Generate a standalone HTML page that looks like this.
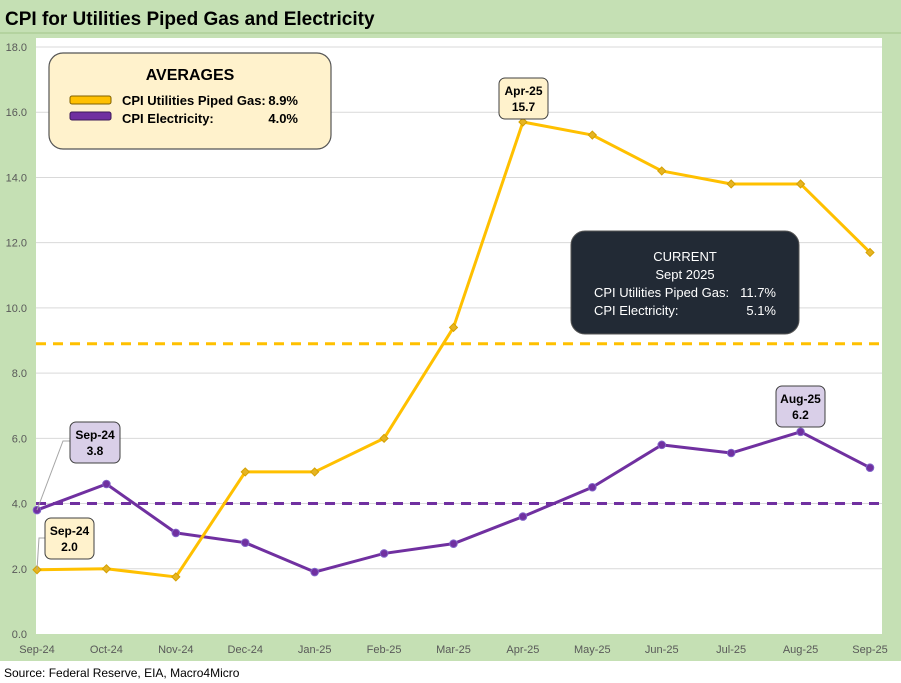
<!DOCTYPE html>
<html><head><meta charset="utf-8"><style>
body{margin:0;width:901px;height:683px;background:#fff;font-family:"Liberation Sans",sans-serif;overflow:hidden}
svg{display:block}
</style></head><body>
<svg width="901" height="683" viewBox="0 0 901 683">
<rect x="0" y="0" width="901" height="661" fill="#c5e0b4"/>
<rect x="0" y="32" width="901" height="2" fill="#b4d39f"/>
<text x="5" y="25" font-size="19" font-weight="bold" fill="#000">CPI for Utilities Piped Gas and Electricity</text>
<rect x="36" y="38" width="846" height="596" fill="#fff"/>
<g id="grid"></g><g id="yt"></g><g id="xt"></g><g id="avg"></g><g id="series"></g>
<text x="4" y="677" font-size="12" fill="#000">Source: Federal Reserve, EIA, Macro4Micro</text>
<g>
<rect x="49" y="53" width="282" height="96" rx="14" fill="#fff2cc" stroke="#555" stroke-width="1.2"/>
<text x="190" y="80" font-size="16" font-weight="bold" text-anchor="middle">AVERAGES</text>
<rect x="70" y="96" width="41" height="8" rx="2" fill="#ffc000" stroke="#7f6000"/>
<rect x="70" y="112" width="41" height="8" rx="2" fill="#7030a0" stroke="#3c1a58"/>
<text x="122" y="105" font-size="13" font-weight="bold">CPI Utilities Piped Gas:</text>
<text x="298" y="105" font-size="13" font-weight="bold" text-anchor="end">8.9%</text>
<text x="122" y="123" font-size="13" font-weight="bold">CPI Electricity:</text>
<text x="298" y="123" font-size="13" font-weight="bold" text-anchor="end">4.0%</text>
</g>
<g>
<rect x="571" y="231" width="228" height="103" rx="14" fill="#222a35" stroke="#555"/>
<text x="685" y="261" font-size="13" fill="#fff" text-anchor="middle">CURRENT</text>
<text x="685" y="279" font-size="13" fill="#fff" text-anchor="middle">Sept 2025</text>
<text x="594" y="297" font-size="13" fill="#fff">CPI Utilities Piped Gas:</text>
<text x="776" y="297" font-size="13" fill="#fff" text-anchor="end">11.7%</text>
<text x="594" y="315" font-size="13" fill="#fff">CPI Electricity:</text>
<text x="776" y="315" font-size="13" fill="#fff" text-anchor="end">5.1%</text>
</g>
<g id="callouts"></g>
</svg>
<script>
const categories=["Sep-24","Oct-24","Nov-24","Dec-24","Jan-25","Feb-25","Mar-25","Apr-25","May-25","Jun-25","Jul-25","Aug-25","Sep-25"];
const gasValues=[1.97,2.0,1.75,4.97,4.97,6.0,9.4,15.7,15.3,14.2,13.8,13.8,11.7];
const elecValues=[3.8,4.6,3.1,2.8,1.9,2.47,2.77,3.6,4.5,5.8,5.55,6.2,5.1];
const gasAvg=[8.9];
const elecAvg=[4.0];
const yTicks=[0,2,4,6,8,10,12,14,16,18];
const NS="http://www.w3.org/2000/svg";
const X=i=>37+i*(870-37)/12;
const Y=v=>634-v*(634-47)/18;
function mk(t,a,p){const e=document.createElementNS(NS,t);for(const k in a)e.setAttribute(k,a[k]);document.getElementById(p).appendChild(e);return e;}
yTicks.forEach(v=>{
 if(v>0){const g=mk('line',{x1:36,x2:882,y1:Y(v),y2:Y(v),stroke:'#d9d9d9','stroke-width':1},'grid');
 
 }
 const t=mk('text',{x:27,y:Y(v)+4,'font-size':11,fill:'#595959','text-anchor':'end'},'yt');t.textContent=v.toFixed(1);
 
 
});
categories.forEach((c,i)=>{
 const t=mk('text',{x:X(i),y:653,'font-size':11,fill:'#595959','text-anchor':'middle'},'xt');t.textContent=c;
 
 
});
const a1=mk('line',{x1:36,x2:882,y1:Y(gasAvg[0]),y2:Y(gasAvg[0]),stroke:'#ffc000','stroke-width':3,'stroke-dasharray':'10 7'},'avg');


const a2=mk('line',{x1:36,x2:882,y1:Y(elecAvg[0]),y2:Y(elecAvg[0]),stroke:'#7030a0','stroke-width':3,'stroke-dasharray':'10 7'},'avg');


function series(vals,col,name,diamond){
 const p=mk('polyline',{points:vals.map((v,i)=>X(i)+','+Y(v)).join(' '),fill:'none',stroke:col,'stroke-width':3,'stroke-linejoin':'round'},'series');
 
 
 vals.forEach((v,i)=>{
  let m;
  if(diamond){const x=X(i),y=Y(v);m=mk('polygon',{points:`${x},${y-4} ${x+4},${y} ${x},${y+4} ${x-4},${y}`,fill:'#e6b422',stroke:'#d4a000'},'series');}
  else m=mk('circle',{cx:X(i),cy:Y(v),r:3.8,fill:'#7030a0',stroke:'#8064c8'},'series');
  
  
 });
}
series(elecValues,'#7030a0','electricity',false);
series(gasValues,'#ffc000','gas',true);
function callout(x,y,w,h,fill,l1,l2,name){
 const r=mk('rect',{x:x,y:y,width:w,height:h,rx:6,fill:fill,stroke:'#404040','stroke-width':1},'callouts');
 
 
 const t1=mk('text',{x:x+w/2,y:y+17,'font-size':12,'font-weight':'bold','text-anchor':'middle'},'callouts');t1.textContent=l1;
 const t2=mk('text',{x:x+w/2,y:y+33,'font-size':12,'font-weight':'bold','text-anchor':'middle'},'callouts');t2.textContent=l2;
}
mk('polyline',{points:`${X(0)},${Y(elecValues[0])} 63,441 70,441`,fill:'none',stroke:'#a6a6a6'},'callouts');
mk('polyline',{points:`${X(0)},${Y(gasValues[0])} 39,538 45,538`,fill:'none',stroke:'#a6a6a6'},'callouts');
callout(70,422,50,41,'#d9cfe8','Sep-24',elecValues[0].toFixed(1),'sep24-electricity-callout');
callout(45,518,49,41,'#fff2cc','Sep-24',gasValues[0].toFixed(1),'sep24-gas-callout');
callout(499,78,49,41,'#fff2cc','Apr-25',gasValues[7].toFixed(1),'apr25-gas-callout');
callout(776,386,49,41,'#d9cfe8','Aug-25',elecValues[11].toFixed(1),'aug25-electricity-callout');
</script>
</body></html>
